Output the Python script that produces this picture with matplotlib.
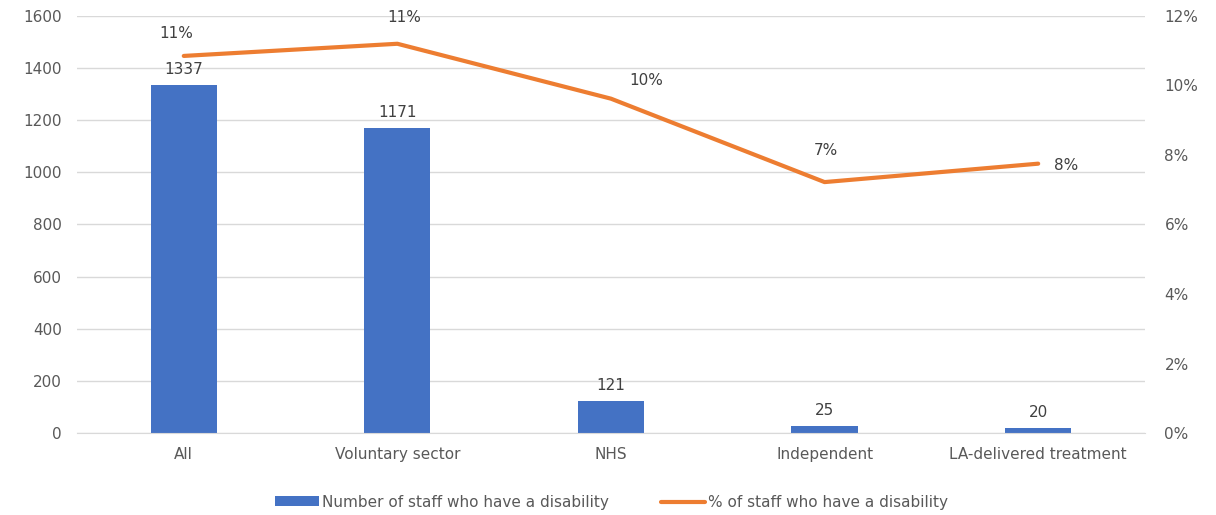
import matplotlib
matplotlib.use("Agg")
import matplotlib.pyplot as plt
from matplotlib.ticker import FuncFormatter

categories = ["All", "Voluntary sector", "NHS", "Independent", "LA-delivered treatment"]
staff_counts = [1337, 1171, 121, 25, 20]
staff_pct = [10.85, 11.2, 9.62, 7.22, 7.75]
pct_labels = ["11%", "11%", "10%", "7%", "8%"]
pct_label_offsets = [(-8, 22), (7, 26), (35, 18), (1, 32), (28, -2)]

bar_color = "#4472C4"
line_color = "#ED7D31"
text_color = "#595959"
grid_color = "#D9D9D9"
fs = 11

plt.rcParams['font.family'] = ['DejaVu Sans']
fig = plt.figure(figsize=(12.16, 5.15), dpi=100)
ax = fig.add_axes([0.0633, 0.1592, 0.8783, 0.8098])
ax2 = ax.twinx()

x = list(range(len(categories)))
bars = ax.bar(x, staff_counts, width=0.31, color=bar_color, zorder=2,
              label="Number of staff who have a disability")
for xi, v in zip(x, staff_counts):
    ax.annotate(str(v), (xi, v), xytext=(0, 8), textcoords="offset pixels",
                ha="center", va="bottom", fontsize=fs, color="#404040")

line, = ax2.plot(x, staff_pct, color=line_color, linewidth=3, solid_capstyle="round",
                 label="% of staff who have a disability", zorder=3)
for xi, v, lab, off in zip(x, staff_pct, pct_labels, pct_label_offsets):
    ax2.annotate(lab, (xi, v), xytext=off, textcoords="offset pixels",
                 ha="center", va="center", fontsize=fs, color="#404040")

ax.set_xlim(-0.5, len(categories) - 0.5)
ax.set_ylim(0, 1600)
ax.set_yticks(range(0, 1601, 200))
ax2.set_ylim(0, 12)
ax2.set_yticks(range(0, 13, 2))
ax2.yaxis.set_major_formatter(FuncFormatter(lambda v, p: f"{int(v)}%"))

ax.set_xticks(x)
ax.set_xticklabels(categories)
ax.grid(axis="y", color=grid_color, linewidth=1, zorder=0)
ax.set_axisbelow(True)
for a in (ax, ax2):
    for s in a.spines.values():
        s.set_visible(False)
    a.tick_params(length=0, colors=text_color, labelsize=fs)
ax.spines["bottom"].set_visible(True)
ax.spines["bottom"].set_color(grid_color)
ax.tick_params(axis="x", pad=10)
ax.tick_params(axis="y", pad=11)
ax2.tick_params(axis="y", pad=14)

ax.set_zorder(ax2.get_zorder() - 1)
ax.patch.set_visible(True)
ax2.patch.set_visible(False)

leg = fig.legend([bars, line], ["Number of staff who have a disability", "% of staff who have a disability"],
                 loc="center", bbox_to_anchor=(0.503, 0.025), ncol=2, frameon=False,
                 fontsize=fs, handlelength=2.9, handleheight=0.6, columnspacing=3.4, handletextpad=0.2)
for t in leg.get_texts():
    t.set_color(text_color)

fig.savefig("out.png", dpi=100)
